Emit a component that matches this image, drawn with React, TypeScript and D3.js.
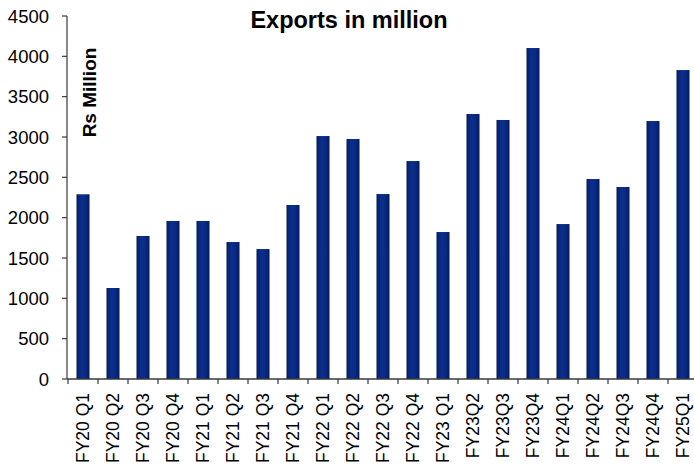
import React from "react";
import * as d3 from "d3";

const categories = [
  "FY20 Q1", "FY20 Q2", "FY20 Q3", "FY20 Q4",
  "FY21 Q1", "FY21 Q2", "FY21 Q3", "FY21 Q4",
  "FY22 Q1", "FY22 Q2", "FY22 Q3", "FY22 Q4",
  "FY23 Q1", "FY23Q2", "FY23Q3", "FY23Q4",
  "FY24Q1", "FY24Q2", "FY24Q3", "FY24Q4", "FY25Q1",
];
const exportsValues = [
  2290, 1128, 1773, 1959,
  1959, 1698, 1611, 2157,
  3012, 2975, 2293, 2702,
  1822, 3285, 3211, 4103,
  1921, 2479, 2380, 3198, 3830,
];
const yTicks = [0, 500, 1000, 1500, 2000, 2500, 3000, 3500, 4000, 4500];
const title = "Exports in million";
const yTitle = "Rs Million";

const W = 694;
const H = 474;
const FONT = "Arial, 'Liberation Sans', Helvetica, sans-serif";

export default function App() {
  const x = d3
    .scaleBand<string>()
    .domain(categories)
    .range([68, 698])
    .paddingInner(0.567)
    .paddingOuter(0.2835);
  const y = d3.scaleLinear().domain([0, 4500]).range([379, 16]);
  const step = x.step();
  const axisColor = "#3a3a3a";

  return (
    <svg
      width={W}
      height={H}
      style={{ position: "absolute", left: 0, top: 0, background: "#fff" }}
      fontFamily={FONT}
    >
      <defs>
        <linearGradient id="barGrad" x1="0" x2="1" y1="0" y2="0">
          <stop offset="0%" stopColor="#011650" />
          <stop offset="15%" stopColor="#072677" />
          <stop offset="40%" stopColor="#0b2e8e" />
          <stop offset="65%" stopColor="#0a2b86" />
          <stop offset="90%" stopColor="#05206c" />
          <stop offset="100%" stopColor="#011650" />
        </linearGradient>
      </defs>

      {/* title */}
      <text x={349} y={28} textAnchor="middle" fontSize={23.5} fontWeight="bold" fill="#000">
        {title}
      </text>

      {/* y axis title */}
      <text
        transform={`translate(96, ${92.5}) rotate(-90)`}
        textAnchor="middle"
        fontSize={19}
        fontWeight="bold"
        fill="#000"
      >
        {yTitle}
      </text>

      {/* bars */}
      {categories.map((c, i) => (
        <rect
          key={c}
          x={x(c)!}
          y={y(exportsValues[i])}
          width={x.bandwidth()}
          height={y(0) - y(exportsValues[i])}
          fill="url(#barGrad)"
        />
      ))}

      {/* y axis */}
      <line x1={67} x2={67} y1={y(4500)} y2={y(0)} stroke={axisColor} strokeWidth={1.2} />
      {yTicks.map((t) => (
        <g key={t}>
          <line x1={62} x2={67} y1={y(t)} y2={y(t)} stroke={axisColor} strokeWidth={1.2} />
          <text x={49} y={y(t) + 6.5} textAnchor="end" fontSize={18.5} fill="#000">
            {t}
          </text>
        </g>
      ))}

      {/* x axis */}
      <line x1={67} x2={698} y1={y(0)} y2={y(0)} stroke={axisColor} strokeWidth={1.5} />
      {categories.map((c, i) => (
        <line
          key={"t" + c}
          x1={68 + i * step}
          x2={68 + i * step}
          y1={y(0)}
          y2={y(0) + 5}
          stroke={axisColor}
          strokeWidth={1.2}
        />
      ))}
      {categories.map((c) => {
        const cx = x(c)! + x.bandwidth() / 2;
        return (
          <text
            key={"l" + c}
            transform={`translate(${cx + 6}, 393) rotate(-90)`}
            textAnchor="end"
            fontSize={17.5}
            fill="#000"
          >
            {c}
          </text>
        );
      })}
    </svg>
  );
}
